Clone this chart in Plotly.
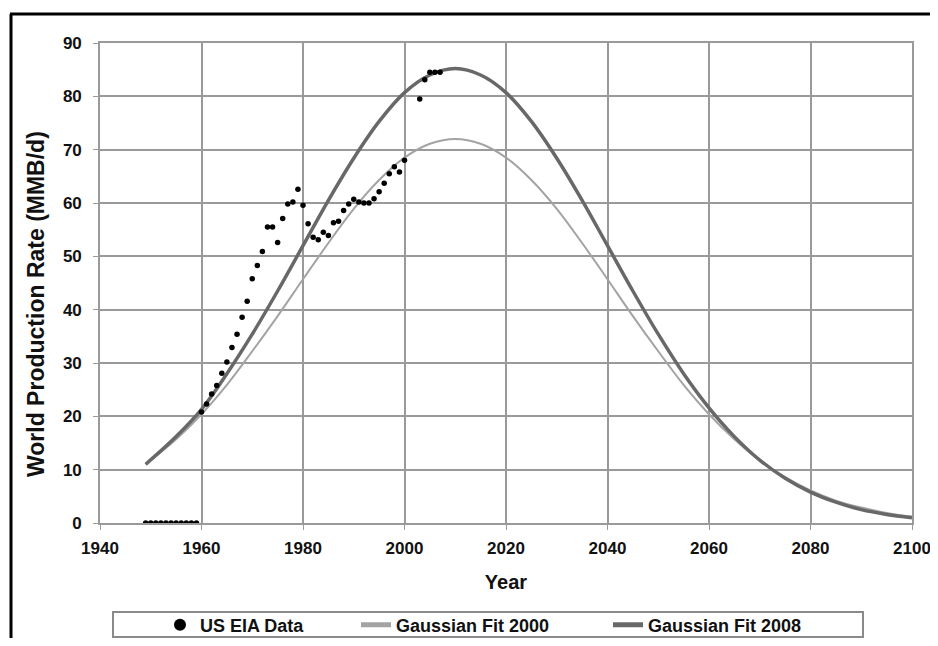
import plotly.graph_objects as go

# ---------------- data ----------------
eia_years = [1949, 1950, 1951, 1952, 1953, 1954, 1955, 1956, 1957, 1958, 1959,
             1960, 1961, 1962, 1963, 1964, 1965, 1966, 1967, 1968, 1969,
             1970, 1971, 1972, 1973, 1974, 1975, 1976, 1977, 1978, 1979,
             1980, 1981, 1982, 1983, 1984, 1985, 1986, 1987, 1988, 1989,
             1990, 1991, 1992, 1993, 1994, 1995, 1996, 1997, 1998, 1999,
             2000, 2003, 2004, 2005, 2006, 2007]
eia_values = [0, 0, 0, 0, 0, 0, 0, 0, 0, 0, 0,
              20.8, 22.3, 24.2, 25.8, 28.1, 30.2, 32.9, 35.4, 38.6, 41.6,
              45.8, 48.3, 50.9, 55.5, 55.5, 52.6, 57.1, 59.8, 60.2, 62.6,
              59.6, 56.1, 53.6, 53.1, 54.5, 53.9, 56.3, 56.6, 58.6, 59.8,
              60.7, 60.2, 60.0, 60.0, 60.8, 62.1, 63.7, 65.5, 66.8, 65.8,
              68.0, 79.5, 83.1, 84.5, 84.5, 84.5]

fit_years = [1949, 1955, 1960, 1965, 1970, 1975, 1980, 1985, 1990, 1995,
             2000, 2005, 2010, 2015, 2020, 2025, 2030, 2035, 2040, 2045,
             2050, 2055, 2060, 2065, 2070, 2075, 2080, 2085, 2090, 2095, 2100]
fit_2000 = [11.0, 15.7, 20.4, 25.9, 32.2, 38.8, 45.7, 52.5, 58.9, 64.3,
            68.5, 71.1, 72.0, 71.1, 68.5, 64.3, 58.9, 52.5, 45.7, 38.8,
            32.2, 25.9, 20.4, 15.7, 11.7, 8.6, 6.1, 4.2, 2.9, 1.9, 1.2]
fit_2008 = [11.0, 16.2, 21.3, 28.0, 35.4, 43.5, 52.0, 60.5, 68.4, 75.3,
            80.7, 84.0, 85.2, 84.0, 80.7, 75.3, 68.4, 60.5, 52.0, 43.5,
            35.4, 28.0, 21.6, 16.2, 11.8, 8.4, 5.8, 3.9, 2.5, 1.6, 1.0]

x_ticks = [1940, 1960, 1980, 2000, 2020, 2040, 2060, 2080, 2100]
y_ticks = [0, 10, 20, 30, 40, 50, 60, 70, 80, 90]

# ---------------- layout constants ----------------
# The page body has an 8px default margin on every side; the figure is sized
# to fit inside it (no overflow) and positioned onto target screen coordinates.
OFF = 8
W, H = 922, 630
ML, MR, MT, MB = 92, 18, 35, 115
PW = W - ML - MR
PH = H - MT - MB


def px_x(sx):
    """screen x -> paper x"""
    return (sx - OFF - ML) / PW


def px_y(sy):
    """screen y -> paper y"""
    return (H - MB - (sy - OFF)) / PH


FONT = "Liberation Sans, Arial, sans-serif"
GRID = "#9a9a9a"
TXT = "#111111"

fig = go.Figure()

fig.add_trace(go.Scatter(
    x=fit_years, y=fit_2000, name="Gaussian Fit 2000", mode="lines",
    line=dict(color="#a3a3a3", width=2, shape="spline", smoothing=1.0),
    legend="legend2",
))
fig.add_trace(go.Scatter(
    x=fit_years, y=fit_2008, name="Gaussian Fit 2008", mode="lines",
    line=dict(color="#686868", width=3.5, shape="spline", smoothing=1.0),
    legend="legend3",
))
fig.add_trace(go.Scatter(
    x=eia_years, y=eia_values, name="US EIA Data", mode="markers",
    marker=dict(color="black", size=5.5, symbol="circle"),
    legend="legend",
))

legend_font = dict(family=FONT, size=18, color=TXT, weight="bold")


def legend_at(sx):
    return dict(
        orientation="h", x=px_x(sx), y=px_y(625), xanchor="left", yanchor="middle",
        bgcolor="rgba(0,0,0,0)", borderwidth=0, font=legend_font,
        itemsizing="constant",
    )


fig.update_layout(
    width=W, height=H,
    margin=dict(l=ML, r=MR, t=MT, b=MB, autoexpand=False),
    paper_bgcolor="white", plot_bgcolor="white",
    font=dict(family=FONT, size=16, color=TXT),
    showlegend=True,
    legend=legend_at(160),
    legend2=legend_at(356),
    legend3=legend_at(608),
    xaxis=dict(
        range=[1940, 2100], tickmode="array", tickvals=x_ticks,
        showgrid=True, gridcolor=GRID, gridwidth=1.6,
        showline=True, linecolor=GRID, linewidth=1.6, mirror=True,
        ticks="outside", ticklen=5, tickcolor=GRID,
        tickfont=dict(family=FONT, size=17, color=TXT, weight="bold"),
        ticklabelstandoff=4, ticklabeloverflow="allow",
        zeroline=False, automargin=False,
        title=dict(text="<b>Year</b>", font=dict(family=FONT, size=20, color=TXT),
                   standoff=18),
    ),
    yaxis=dict(
        range=[0, 90], tickmode="array", tickvals=y_ticks,
        showgrid=True, gridcolor=GRID, gridwidth=1.6,
        showline=True, linecolor=GRID, linewidth=1.6, mirror=True,
        ticks="outside", ticklen=5, tickcolor=GRID,
        tickfont=dict(family=FONT, size=17, color=TXT, weight="bold"),
        ticklabelstandoff=8, ticklabeloverflow="allow",
        zeroline=False, automargin=False,
    ),
)

# y-axis title positioned like the reference
fig.add_annotation(
    text="<b>World Production Rate (MMB/d)</b>", textangle=-90,
    xref="paper", yref="paper", x=px_x(36), y=px_y(304),
    xanchor="center", yanchor="middle", showarrow=False,
    font=dict(family=FONT, size=23, color=TXT),
)

# legend box
fig.add_shape(type="rect", xref="paper", yref="paper",
              x0=px_x(113), x1=px_x(863), y0=px_y(612), y1=px_y(637),
              line=dict(color="#8a8a8a", width=2), fillcolor="rgba(0,0,0,0)", layer="below")

# outer chart frame (left and top edges visible)
fig.add_shape(type="line", xref="paper", yref="paper",
              x0=px_x(11), x1=px_x(11), y0=px_y(14), y1=px_y(660),
              line=dict(color="black", width=3))
fig.add_shape(type="line", xref="paper", yref="paper",
              x0=px_x(10), x1=px_x(950), y0=px_y(14), y1=px_y(14),
              line=dict(color="black", width=3))

fig.write_html("out.html")
